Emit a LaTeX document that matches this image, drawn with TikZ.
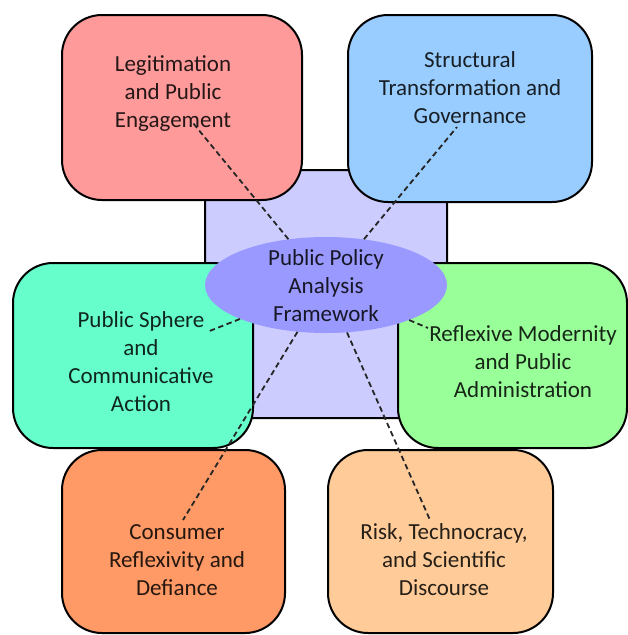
\documentclass[tikz,border=0pt]{standalone}
\usepackage{fontspec}
\setmainfont{Carlito}
\usepackage{xcolor}
\usetikzlibrary{
  positioning, shapes.geometric,
}
\definecolor{cLegit}   {HTML}{FF9A9A}
\definecolor{cStruct}  {HTML}{99CCFF}
\definecolor{cSphere}  {HTML}{66FFCC}
\definecolor{cModern}  {HTML}{99FF99}
\definecolor{cConsumer}{HTML}{FF9966}
\definecolor{cRisk}    {HTML}{FFCC99}
\definecolor{cBack}    {HTML}{CCCCFF}
\definecolor{cCore}    {HTML}{9999FF}

\tikzset{
  themebox/.style={draw=black, fill=#1, line width=2pt, rounded corners=40pt},
  themetext/.style={font=\fontsize{23}{28}\selectfont, align=center, text=#1!15!black},
  link/.style={draw=black!85, line width=1.8pt, dash pattern=on 5.5pt off 3.5pt},
}

\begin{document}
\begin{tikzpicture}[x=1pt, y=-1pt]
  \useasboundingbox (0,0) rectangle (628,635);
  % shaded panel behind the core
  \node[draw=black, fill=cBack, line width=2pt, rounded corners=10pt,
        minimum width=242pt, minimum height=248pt] (back) at (326,294) {};
  % the six themes
  \node[themebox=cLegit,    minimum width=240pt, minimum height=185pt] (legit)    at (182,107.5) {};
  \node[themebox=cStruct,   minimum width=244pt, minimum height=187pt] (struct)   at (470,108.5) {};
  \node[themebox=cSphere,   minimum width=240pt, minimum height=185pt] (sphere)   at (133,355.5) {};
  \node[themebox=cModern,   minimum width=229pt, minimum height=185pt] (modern)   at (512.5,355.5) {};
  \node[themebox=cConsumer, minimum width=223pt, minimum height=183pt] (consumer) at (173.5,541.5) {};
  \node[themebox=cRisk,     minimum width=225pt, minimum height=183pt] (risk)     at (440.5,541.5) {};
  % core of the framework
  \node[ellipse, fill=cCore, minimum width=242pt, minimum height=96pt,
        inner sep=0pt] (core) at (326,285) {};

  \node[themetext=cLegit]    (legitTxt)    at (173,94)  {Legitimation\\and Public\\Engagement};
  \node[themetext=cStruct]   (structTxt)   at (470,88)  {Structural\\Transformation and\\Governance};
  \node[themetext=cSphere]   (sphereTxt)   at (141,362) {Public Sphere\\and\\Communicative\\Action};
  \node[themetext=cModern]   (modernTxt)   at (523,362) {Reflexive Modernity\\and Public\\Administration};
  \node[themetext=cConsumer] (consumerTxt) at (177,560) {Consumer\\Reflexivity and\\Defiance};
  \node[themetext=cRisk]     (riskTxt)     at (444,560) {Risk, Technocracy,\\and Scientific\\Discourse};
  \node[themetext=cCore]     (coreTxt)     at (326,286) {Public Policy\\Analysis\\Framework};

  % dashed links end inside each label
  \coordinate (legitEnd)    at (193,123);
  \coordinate (structEnd)   at (457,127);
  \coordinate (sphereEnd)   at (207,332);
  \coordinate (modernEnd)   at (428,328);
  \coordinate (consumerEnd) at (183,520);
  \coordinate (riskEnd)     at (430,520);
  \foreach \t in {legit, struct, sphere, modern, consumer, risk}
    \draw[link] (core) -- (\t End);
\end{tikzpicture}
\end{document}
